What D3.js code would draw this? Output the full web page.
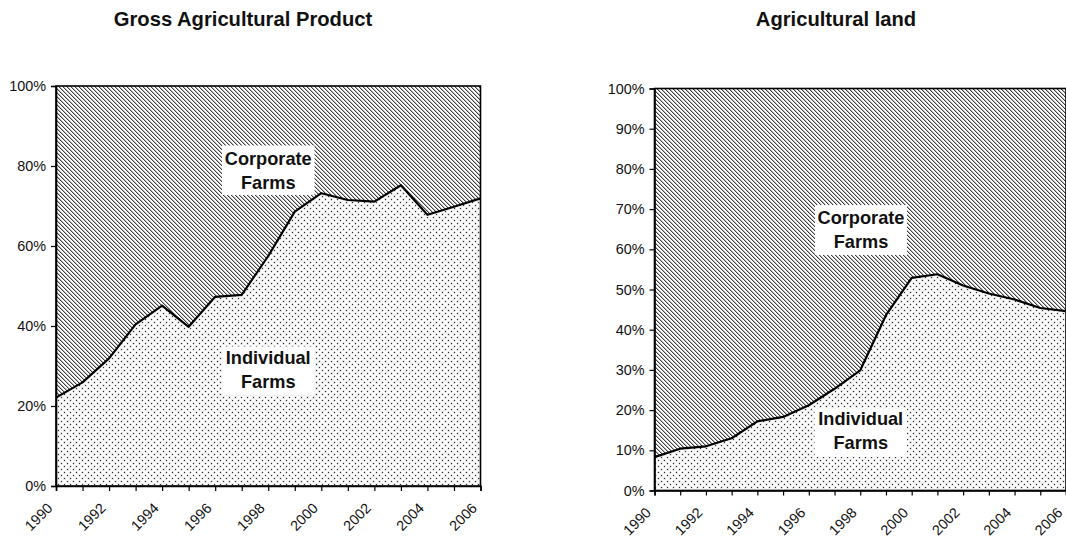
<!DOCTYPE html>
<html>
<head>
<meta charset="utf-8">
<script src="https://cdn.jsdelivr.net/npm/d3@7/dist/d3.min.js"></script>
<style>
  html, body { margin: 0; padding: 0; background: #fff; }
  svg { display: block; }
  text { font-family: Arial, "Liberation Sans", sans-serif; fill: #111; }
</style>
</head>
<body>
<svg id="chart" width="1066" height="539"></svg>
<script>
// Years on the category axis
const years = [1990, 1991, 1992, 1993, 1994, 1995, 1996, 1997, 1998,
               1999, 2000, 2001, 2002, 2003, 2004, 2005, 2006];

// Share of individual farms (%) — gross agricultural product
const productIndividual = [22.1, 25.9, 31.9, 40.4, 45.1, 39.8, 47.3, 47.8, 57.5,
                           68.6, 73.2, 71.5, 71.1, 75.2, 67.8, 69.8, 71.9];

// Share of individual farms (%) — agricultural land
const landIndividual = [8.3, 10.4, 11.0, 13.0, 17.2, 18.3, 21.2, 25.3, 29.9,
                        43.6, 52.9, 53.8, 51.0, 49.0, 47.5, 45.4, 44.6];

// Tick values for each panel's percentage axis
const productTicks = [0, 20, 40, 60, 80, 100];
const landTicks = [0, 10, 20, 30, 40, 50, 60, 70, 80, 90, 100];

// Year labels shown under the axis
const yearLabels = [1990, 1992, 1994, 1996, 1998, 2000, 2002, 2004, 2006];

const titles = ["Gross Agricultural Product", "Agricultural land"];
const labelCorporate = ["Corporate", "Farms"];
const labelIndividual = ["Individual", "Farms"];

const svg = d3.select("#chart");
svg.append("rect").attr("width", 1066).attr("height", 539).attr("fill", "#fff");

const defs = svg.append("defs");

// Downward diagonal hatch for corporate farms
const hatch = defs.append("pattern")
  .attr("id", "hatch").attr("patternUnits", "userSpaceOnUse")
  .attr("width", 4).attr("height", 4);
hatch.append("rect").attr("width", 4).attr("height", 4).attr("fill", "#fff");
for (let i = 0; i < 4; i++) {
  hatch.append("rect").attr("x", i).attr("y", i).attr("width", 1).attr("height", 1)
    .attr("fill", "#424242").attr("shape-rendering", "crispEdges");
  hatch.append("rect").attr("x", (i + 1) % 4).attr("y", i).attr("width", 1).attr("height", 1)
    .attr("fill", "#b4b4b4").attr("shape-rendering", "crispEdges");
}

// Dot grid for individual farms
const dots = defs.append("pattern")
  .attr("id", "dots").attr("patternUnits", "userSpaceOnUse")
  .attr("width", 6).attr("height", 6);
dots.append("rect").attr("width", 6).attr("height", 6).attr("fill", "#fff");
[[1, 1], [4, 4]].forEach(([dx, dy]) => {
  dots.append("rect").attr("x", dx - 0.5).attr("y", dy - 0.5).attr("width", 2).attr("height", 2)
    .attr("fill", "#c0c0c0");
  dots.append("rect").attr("x", dx).attr("y", dy).attr("width", 1).attr("height", 1)
    .attr("fill", "#2e2e2e").attr("shape-rendering", "crispEdges");
});

function panel(cfg) {
  const x = d3.scaleLinear().domain([years[0], years[years.length - 1]]).range([cfg.left, cfg.right]);
  const y = d3.scaleLinear().domain([0, 100]).range([cfg.bottom, cfg.top]);
  const g = svg.append("g");

  const rows = years.map((yr, i) => ({ year: yr, v: cfg.values[i] }));

  // Corporate share: from the individual line up to 100%
  g.append("path").datum(rows)
    .attr("fill", "url(#hatch)")
    .attr("d", d3.area().x(d => x(d.year)).y0(d => y(d.v)).y1(() => y(100)));

  // Individual share: from zero up to the line
  g.append("path").datum(rows)
    .attr("fill", "url(#dots)")
    .attr("d", d3.area().x(d => x(d.year)).y0(() => y(0)).y1(d => y(d.v)));

  g.append("path").datum(rows)
    .attr("fill", "none").attr("stroke", "#000").attr("stroke-width", 2.2)
    .attr("stroke-linejoin", "round")
    .attr("d", d3.line().x(d => x(d.year)).y(d => y(d.v)));

  // Plot frame
  g.append("rect")
    .attr("x", cfg.left).attr("y", cfg.top)
    .attr("width", cfg.right - cfg.left).attr("height", cfg.bottom - cfg.top)
    .attr("fill", "none").attr("stroke", "#000").attr("stroke-width", 1.6);

  // Percentage axis
  const ya = g.append("g").attr("transform", `translate(${cfg.left},0)`)
    .call(d3.axisLeft(y).tickValues(cfg.ticks).tickSize(5).tickPadding(5)
      .tickFormat(d => d + "%"));
  ya.select(".domain").attr("stroke", "#000").attr("stroke-width", 1.6);
  ya.selectAll(".tick line").attr("stroke", "#000").attr("stroke-width", 1.2);
  ya.selectAll(".tick text").attr("font-size", 14.4).attr("fill", "#111");

  // Year axis
  const xa = g.append("g").attr("transform", `translate(0,${cfg.bottom})`)
    .call(d3.axisBottom(x).tickValues(years).tickSize(5).tickFormat(""));
  xa.select(".domain").attr("stroke", "#000").attr("stroke-width", 1.6);
  xa.selectAll(".tick line").attr("stroke", "#000").attr("stroke-width", 1.2);

  g.selectAll(".yearLabel").data(yearLabels).enter().append("text")
    .attr("class", "yearLabel")
    .attr("transform", d => `translate(${x(d) - 2.5},${cfg.bottom + 23}) rotate(-45)`)
    .attr("text-anchor", "end")
    .attr("font-size", 14.4)
    .text(d => d);

  // Title
  svg.append("text")
    .attr("x", cfg.titleX).attr("y", 26)
    .attr("text-anchor", "middle").attr("font-size", 20.2).attr("font-weight", "bold")
    .text(cfg.title);

  // Boxed series labels
  function boxLabel(lines, box, base) {
    g.append("rect").attr("x", box[0]).attr("y", box[1])
      .attr("width", box[2]).attr("height", box[3]).attr("fill", "#fff");
    lines.forEach((t, i) => {
      g.append("text").attr("x", box[0] + box[2] / 2).attr("y", base + i * 24)
        .attr("text-anchor", "middle").attr("font-size", 18.2).attr("font-weight", "bold")
        .text(t);
    });
  }
  boxLabel(labelCorporate, cfg.corpBox, cfg.corpBase);
  boxLabel(labelIndividual, cfg.indBox, cfg.indBase);
}

panel({
  left: 56, right: 480.5, top: 86, bottom: 486,
  values: productIndividual, ticks: productTicks,
  title: titles[0], titleX: 243,
  corpBox: [222, 145.5, 92.5, 49.5], corpBase: 164.5,
  indBox: [222, 346.5, 92.5, 48.5], indBase: 364
});

panel({
  left: 654.5, right: 1066, top: 88.5, bottom: 490.5,
  values: landIndividual, ticks: landTicks,
  title: titles[1], titleX: 836,
  corpBox: [815, 205, 92, 50], corpBase: 223.5,
  indBox: [814.5, 408.5, 92.5, 48.5], indBase: 425
});
</script>
</body>
</html>
